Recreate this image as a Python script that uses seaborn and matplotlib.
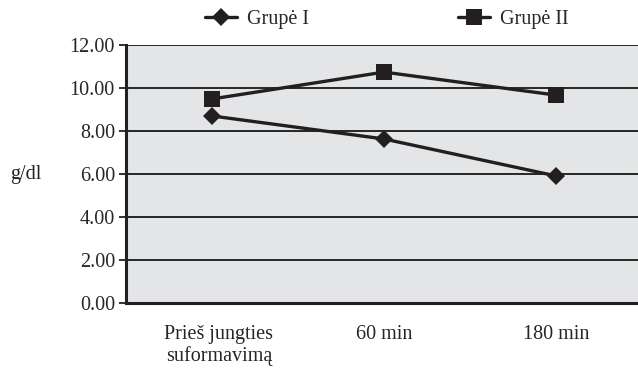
import matplotlib
matplotlib.use("Agg")
import matplotlib.pyplot as plt
from matplotlib.lines import Line2D
import seaborn as sns
import pandas as pd

# Hemoglobin over time, two groups
categories = ["Prieš jungties\nsuformavimą", "60 min", "180 min"]
grupe_1 = [8.70, 7.63, 5.91]
grupe_2 = [9.49, 10.74, 9.67]
series_names = ["Grupė I", "Grupė II"]
y_ticks = [0, 2, 4, 6, 8, 10, 12]

df = pd.DataFrame({
    "laikas": categories * 2,
    "g/dl": grupe_1 + grupe_2,
    "grupe": [series_names[0]] * 3 + [series_names[1]] * 3,
})

sns.set_theme(style="white")
plt.rcParams["font.family"] = ["Liberation Serif", "DejaVu Serif"]

ink = "#231f20"
fs = 14.5
fig = plt.figure(figsize=(6.38, 3.76), dpi=100)
ax = fig.add_axes([126 / 638, 1 - 303 / 376, 516 / 638, 258 / 376])
ax.set_facecolor("#e4e5e7")

sns.lineplot(data=df, x="laikas", y="g/dl", hue="grupe", style="grupe",
             markers={"Grupė I": "D", "Grupė II": "s"}, dashes=False,
             palette={"Grupė I": ink, "Grupė II": ink},
             linewidth=2.4, markersize=9, markeredgewidth=0,
             legend=False, ax=ax, sort=False)
for ln, ms in zip(ax.get_lines(), [9.5, 11.5]):
    ln.set_markersize(ms)

ax.set_xlim(-0.5, 2.5)
ax.set_ylim(0, 12)
ax.set_yticks(y_ticks)
ax.set_yticklabels([f"{v:.2f}" for v in y_ticks], fontsize=fs)
ax.yaxis.grid(True, color="#262626", linewidth=1.4)
ax.set_axisbelow(True)

# category boundaries carry the tick marks, labels sit between them
ax.set_xticks([-0.5, 0.5, 1.5, 2.5])
ax.set_xticklabels([])
ax.set_xticks([0.04, 1, 2], minor=True)
ax.set_xticklabels(categories, minor=True, fontsize=fs, linespacing=1.1)
ax.tick_params(axis="x", which="minor", length=0, pad=16)
ax.tick_params(axis="x", which="major", direction="out", length=5, width=1.3, color=ink)
ax.tick_params(axis="y", direction="out", length=5, width=1.3, color=ink, pad=3, left=True)

for side in ["top", "right"]:
    ax.spines[side].set_visible(False)
for side in ["left", "bottom"]:
    ax.spines[side].set_color(ink)
    ax.spines[side].set_linewidth(2.2)

ax.set_xlabel("")
ax.set_ylabel("")
fig.text(10 / 638, 1 - 174 / 376, "g/dl", fontsize=fs, va="center", ha="left", color=ink)

handles = [
    Line2D([], [], color=ink, linewidth=2.4, marker="D", markersize=9.5, markeredgewidth=0),
    Line2D([], [], color=ink, linewidth=2.4, marker="s", markersize=11.5, markeredgewidth=0),
]
fig.legend(handles, series_names, loc="center", bbox_to_anchor=(387 / 638, 1 - 19 / 376),
           ncol=2, frameon=False, fontsize=fs, handlelength=1.6, handletextpad=0.5,
           columnspacing=7.4)

fig.savefig("out.png", dpi=100)
